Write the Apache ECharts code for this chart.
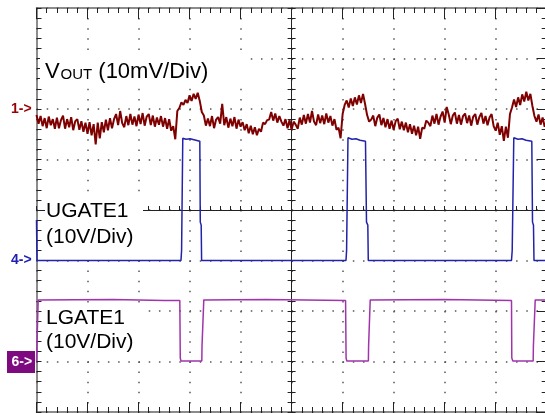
<!DOCTYPE html>
<html><head><meta charset="utf-8">
<script src="https://cdn.jsdelivr.net/npm/echarts@6/dist/echarts.min.js"></script>
<style>html,body{margin:0;padding:0;background:#fff}#c{width:545px;height:413px}</style>
</head><body><div id="c"></div>
<script>
// Screen: 10 horizontal divisions, 8 vertical divisions
const xDivs = 10, yDivs = 8;
// Channel reference levels (division from bottom) and scales
const voutRefDiv = 6, voutScale = 10;   // mV/div
const ugateRefDiv = 3, ugateScale = 10; // V/div
const lgateRefDiv = 1, lgateScale = 10; // V/div

// VOUT samples (mV, relative to marker 1), one every 0.04 div
const voutStep = 0.04;
const voutMv = [
 -1.2,-2.9,-1.4,-3.4,-1.8,-3.8,-1.5,-3.2,-2.0,-3.9,
 -1.7,-3.8,-2.2,-1.3,-3.9,-2.0,-3.6,-1.6,-4.2,-2.4,
 -2.0,-4.1,-2.4,-4.5,-2.7,-4.9,-2.6,-5.2,-3.0,-7.0,
 -2.7,-5.8,-2.6,-4.6,-2.1,-4.2,-1.8,-3.8,-2.0,-1.0,
 -3.2,-0.4,-2.8,-3.6,-1.4,-3.2,-1.0,-3.1,-1.5,-3.4,
 -1.1,-3.0,-0.8,-3.3,-1.5,-1.0,-3.2,-1.3,-3.5,-1.7,
 -3.1,-1.4,-3.5,-1.8,-3.9,-2.0,-4.3,-3.4,-6.0,-0.4,
 0.2,1.3,0.8,1.8,1.2,2.7,1.6,3.0,2.0,3.2,
 1.6,-0.6,-1.3,-3.3,-1.9,-3.4,-1.4,-3.8,-2.1,-1.6,
 -2.9,1.0,-3.2,-1.6,-3.7,-1.9,-3.4,-1.6,-3.9,-2.1,
 -3.5,-2.6,-4.2,-3.0,-4.8,-3.3,-5.0,-3.6,-5.2,-3.9,
 -4.5,-2.7,-3.0,-2.2,-2.1,-0.6,-2.3,-0.9,-2.7,-1.4,
 -2.5,-3.3,-2.0,-3.8,-2.2,-4.1,-2.5,-3.1,-3.9,-1.7,
 -3.1,-1.2,-2.9,-1.0,-2.7,-0.4,-2.5,-3.2,-1.1,-2.8,
 -1.3,-3.0,-0.9,-2.7,-1.4,-3.3,-2.0,-4.1,-3.7,-5.8,
 -1.0,0.8,1.7,0.3,2.1,0.6,2.3,0.9,2.7,1.2,
 3.0,1.0,-1.2,-2.5,-2.1,-1.3,-3.4,-1.7,-1.1,-3.2,
 -1.8,-3.6,-2.0,-3.9,-2.3,-4.1,-2.4,-1.9,-4.0,-2.5,
 -4.2,-2.7,-4.6,-3.0,-4.9,-3.3,-5.2,-3.5,-5.9,-3.7,
 -3.9,-2.3,-2.7,-3.4,-1.3,-2.9,-1.0,-3.1,-1.5,-0.5,
 -2.7,0.4,-1.1,-3.0,-1.3,-0.7,-2.9,-1.2,-3.1,-1.4,
 -0.9,-2.8,-1.3,-3.3,-1.5,-1.0,-3.1,-1.6,-0.8,-2.9,
 -1.4,-3.2,-1.7,-1.0,-3.4,-4.3,-2.7,-5.1,-3.4,-6.3,
 -3.5,-5.7,-1.0,0.3,1.9,0.4,2.3,0.8,2.9,1.5,
 3.4,1.7,3.0,0.6,-1.4,-2.5,-1.1,-3.1,-1.7,-3.5,
 -2.3
];

// UGATE1 (time in div, volts)
const ugateT = [0,0.01,2.832,2.844,2.867,2.930,3.009,3.087,3.201,3.210,3.228,3.236,
  6.066,6.078,6.105,6.184,6.262,6.341,6.448,6.468,6.494,6.503,
  9.310,9.324,9.355,9.437,9.516,9.594,9.708,9.722,9.741,9.751,10];
const ugateV = [8,0,0,2,24.2,24.0,24.1,23.9,23.6,7.6,7.0,0,
  0,2,24.3,24.0,24.1,23.8,23.6,7.6,7.0,0,
  0,2,24.3,24.0,24.1,23.8,23.6,7.6,7.0,0,0];

// LGATE1 (time in div, volts)
const lgateT = [0,0.008,0.033,1.5,2.5,2.809,2.818,2.832,3.240,3.244,3.271,3.279,
  4.5,6.058,6.068,6.082,6.505,6.509,6.533,6.541,
  8.0,9.310,9.316,9.336,9.735,9.739,9.767,9.775,10];
const lgateV = [0.1,3.0,12.2,12.3,12.1,12.1,0.7,0.1,0.1,3.0,3.3,12.2,
  12.3,12.1,0.7,0.1,0.1,3.0,3.3,12.2,
  12.3,12.1,0.7,0.1,0.1,3.0,3.3,12.2,12.2];

const labels = {
  vout: ['V', 'OUT', ' (10mV/Div)'],
  ugate: ['UGATE1', '(10V/Div)'],
  lgate: ['LGATE1', '(10V/Div)'],
  markers: ['1->', '4->', '6->']
};

const voutData = voutMv.map((v, i) => [i * voutStep, voutRefDiv + v / voutScale]);
const ugateData = ugateT.map((t, i) => [t, ugateRefDiv + ugateV[i] / ugateScale]);
const lgateData = lgateT.map((t, i) => [t, lgateRefDiv + lgateV[i] / lgateScale]);

const L = 36.5, T = 8, W = 510.2, H = 404;
const tickCol = '#222';
function hAxis(grid, pos, opt) {
  return Object.assign({
    type: 'value', gridIndex: grid, position: pos, min: 0, max: xDivs, interval: 1,
    axisLabel: { show: false },
    axisLine: { show: true, onZero: false, lineStyle: { color: '#666', width: 1.5 } },
    axisTick: { show: true, inside: true, length: 10, lineStyle: { color: tickCol, width: 1 } },
    minorTick: { show: true, splitNumber: 5, length: 5, lineStyle: { color: tickCol, width: 1 } },
    splitLine: { show: false }
  }, opt || {});
}
function vAxis(grid, pos, opt) {
  return Object.assign({
    type: 'value', gridIndex: grid, position: pos, min: 0, max: yDivs, interval: 1,
    axisLabel: { show: false },
    axisLine: { show: true, onZero: false, lineStyle: { color: '#666', width: 1.5 } },
    axisTick: { show: true, inside: true, length: 5, lineStyle: { color: tickCol, width: 1 } },
    minorTick: { show: true, splitNumber: 5, length: 5, lineStyle: { color: tickCol, width: 1 } },
    splitLine: { show: false }
  }, opt || {});
}
const hidden = (grid) => ({ type: 'value', gridIndex: grid, show: false, min: 0, max: 1 });
const centerLine = { show: true, onZero: false, lineStyle: { color: '#222', width: 1 } };
const centerTick = { show: true, inside: true, length: 4, lineStyle: { color: '#222', width: 1 } };
const centerMinor = { show: true, splitNumber: 5, length: 4, lineStyle: { color: '#222', width: 1 } };

const txt = (s, x, y, size, fill, weight) => ({
  type: 'text', z: 5, silent: true, x: x, y: y,
  style: { text: s, font: (weight || 'normal') + ' ' + size + 'px "Liberation Sans"', fill: fill || '#000', verticalAlign: 'middle' }
});

const option = {
  backgroundColor: '#fff',
  animation: false,
  grid: [
    { left: L, top: T, width: W, height: H, outerBoundsMode: 'none' },
    { left: L, top: T, width: W, height: H / 2, outerBoundsMode: 'none' },
    { left: L, top: T + H / 2, width: W, height: H / 2, outerBoundsMode: 'none' },
    { left: L, top: T, width: W / 2, height: H, outerBoundsMode: 'none' },
    { left: L + W / 2, top: T, width: W / 2, height: H, outerBoundsMode: 'none' }
  ],
  xAxis: [
    hAxis(0, 'bottom', { splitLine: { show: true, lineStyle: { color: '#555', width: 1.5, type: [1.5, 8.6] } } }),
    hAxis(0, 'top', { axisTick: { show: true, inside: true, length: 11, lineStyle: { color: tickCol, width: 1 } } }),
    hAxis(1, 'bottom', { axisLine: centerLine, axisTick: centerTick, minorTick: centerMinor }),
    hAxis(2, 'top', { axisLine: { show: false }, axisTick: centerTick, minorTick: centerMinor }),
    hidden(3), hidden(4)
  ],
  yAxis: [
    vAxis(0, 'left', { splitLine: { show: true, lineStyle: { color: '#555', width: 1.5, type: [1.5, 8.704] } } }),
    vAxis(0, 'right', { axisTick: { show: true, inside: true, length: 10, lineStyle: { color: tickCol, width: 1 } } }),
    hidden(1), hidden(2),
    vAxis(3, 'right', { axisLine: centerLine, axisTick: centerTick, minorTick: centerMinor }),
    vAxis(4, 'left', { axisLine: { show: false }, axisTick: centerTick, minorTick: centerMinor })
  ],
  series: [
    { name: 'VOUT', type: 'line', xAxisIndex: 0, yAxisIndex: 0, data: voutData, showSymbol: false,
      lineStyle: { color: '#7f0000', width: 2 }, z: 3 },
    { name: 'UGATE1', type: 'line', xAxisIndex: 0, yAxisIndex: 0, data: ugateData, showSymbol: false,
      lineStyle: { color: '#2222aa', width: 1.5 }, z: 3 },
    { name: 'LGATE1', type: 'line', xAxisIndex: 0, yAxisIndex: 0, data: lgateData, showSymbol: false,
      lineStyle: { color: '#a034ac', width: 1.5 }, z: 3 }
  ],
  graphic: { elements: [
    { type: 'rect', z: 1, silent: true, shape: { x: 40, y: 56, width: 206, height: 30 }, style: { fill: '#fff' } },
    { type: 'rect', z: 1, silent: true, shape: { x: 45, y: 196, width: 98, height: 58 }, style: { fill: '#fff' } },
    { type: 'rect', z: 1, silent: true, shape: { x: 45, y: 305, width: 100, height: 51 }, style: { fill: '#fff' } },
    txt(labels.vout[0], 45, 72.4, 22),
    txt(labels.vout[1], 60.5, 74.8, 15),
    txt(labels.vout[2], 92.2, 72.4, 22),
    txt(labels.ugate[0], 46, 210.9, 21),
    txt(labels.ugate[1], 46, 237.0, 21),
    txt(labels.lgate[0], 46, 318.4, 21),
    txt(labels.lgate[1], 46, 342.0, 21),
    txt(labels.markers[0], 11, 109, 14, '#990000', 'bold'),
    txt(labels.markers[1], 11, 260.5, 14, '#2020b0', 'bold'),
    { type: 'rect', z: 5, silent: true, shape: { x: 7, y: 351, width: 28, height: 22 }, style: { fill: '#7e0a80' } },
    Object.assign(txt(labels.markers[2], 11.5, 362, 14, '#fff', 'bold'), { z: 6 })
  ] }
};
const chart = echarts.init(document.getElementById('c'), null, { renderer: 'canvas' });
chart.setOption(option);
</script></body></html>
